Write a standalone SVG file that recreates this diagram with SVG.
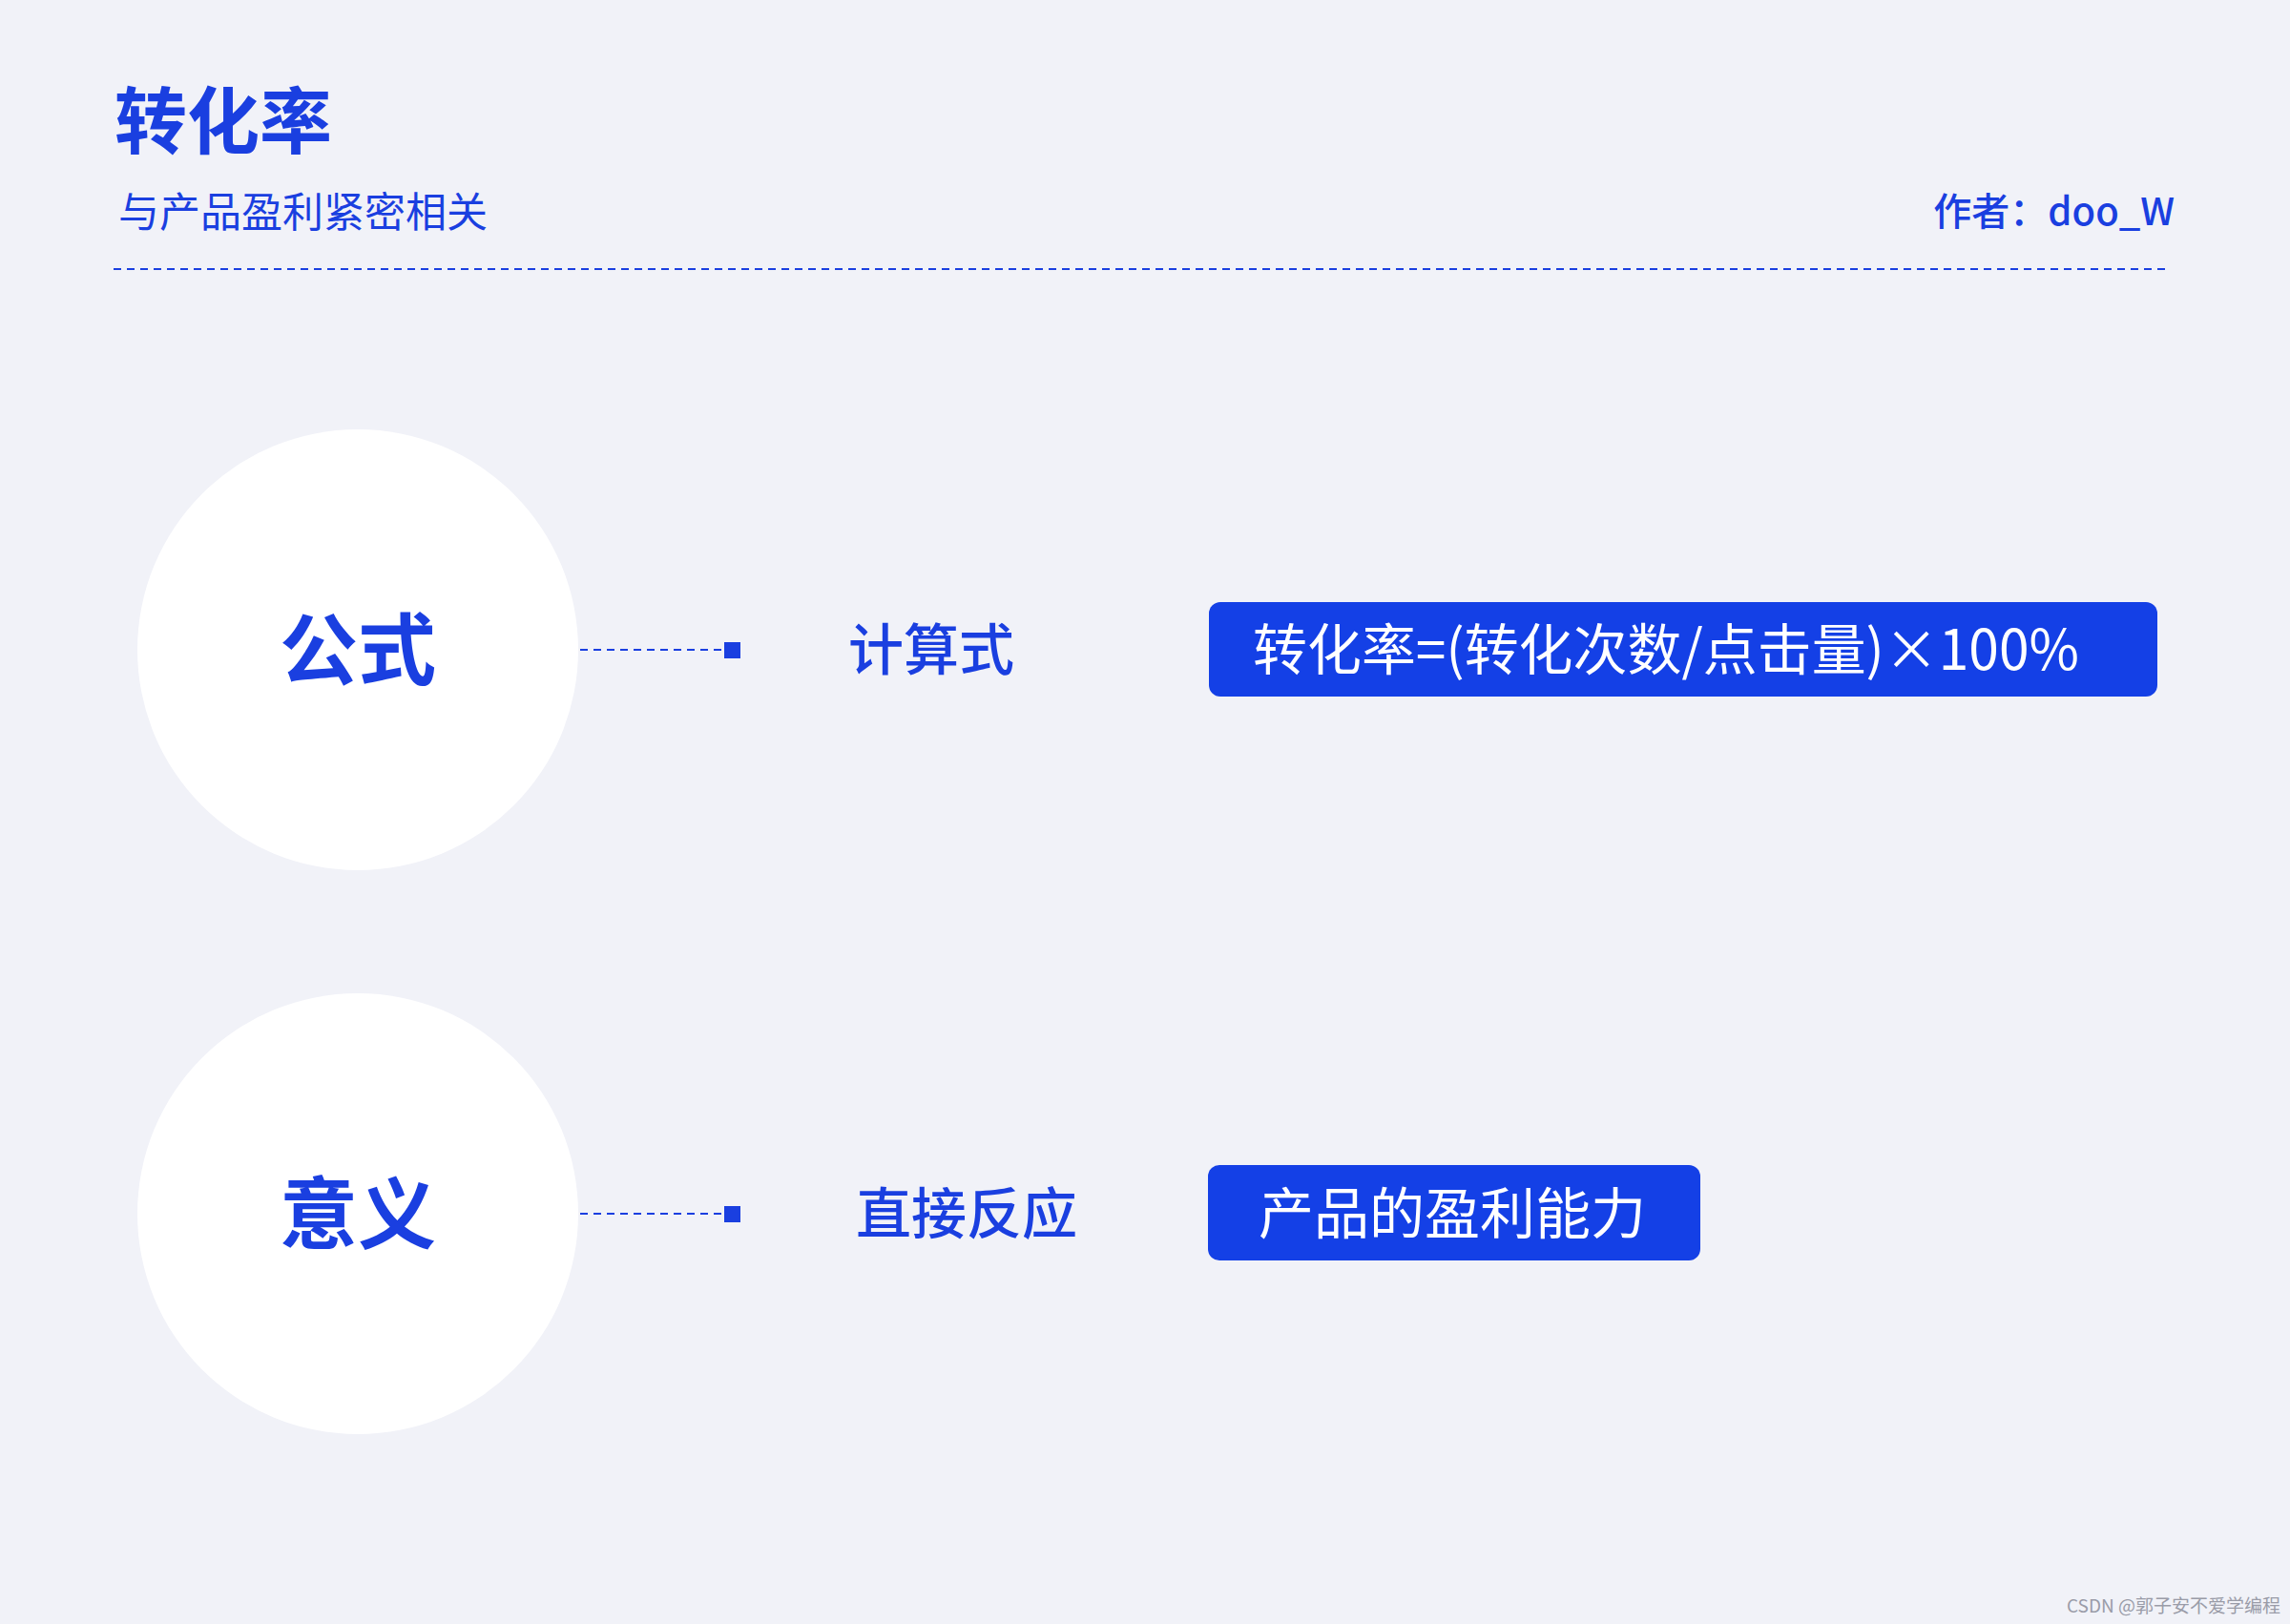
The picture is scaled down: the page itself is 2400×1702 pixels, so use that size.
<svg xmlns="http://www.w3.org/2000/svg" width="2400" height="1702" viewBox="0 0 2400 1702">
<style>
text{font-family:"Noto Sans CJK SC","Noto Sans",sans-serif;fill:#1a3fe0}
.c{fill:#fff}
.dash{stroke:#1a3fe0;stroke-width:2;stroke-dasharray:8 6;fill:none}
.box{fill:#1440e6}
.w{fill:#fff}
</style>
<rect width="2400" height="1702" fill="#f1f2f8"/>
<g id="header">
<text x="120" y="155" font-size="76" font-weight="700">转化率</text>
<text x="124" y="238" font-size="43">与产品盈利紧密相关</text>
<text x="2279" y="236" font-size="40" text-anchor="end" font-weight="500">作者：doo_W</text>
<line x1="119" y1="282" x2="2273" y2="282" class="dash"/>
</g>
<g id="formula">
<circle cx="375" cy="681" r="231" class="c"/>
<text x="375" y="711" font-size="82" font-weight="700" text-anchor="middle">公式</text>
</g>
<g id="formula-label"><text x="976" y="702" font-size="58" font-weight="500" text-anchor="middle">计算式</text></g>
<g id="formula-box">
<rect x="1267" y="631" width="994" height="99" rx="12" class="box"/>
<text x="1313" y="702" font-size="58" class="w" textLength="866" lengthAdjust="spacingAndGlyphs">转化率=(转化次数/点击量)×100%</text>
</g>
<g id="meaning">
<circle cx="375" cy="1272" r="231" class="c"/>
<text x="375" y="1302" font-size="82" font-weight="700" text-anchor="middle">意义</text>
</g>
<g id="meaning-label"><text x="1013" y="1293" font-size="58" font-weight="500" text-anchor="middle">直接反应</text></g>
<g id="meaning-box">
<rect x="1266" y="1221" width="516" height="100" rx="12" class="box"/>
<text x="1319" y="1293" font-size="58" class="w">产品的盈利能力</text>
</g>
<g id="connectors">
<line x1="608" y1="681" x2="762" y2="681" class="dash"/>
<rect x="759" y="673" width="17" height="17" fill="#1a3fe0"/>
<line x1="608" y1="1272" x2="762" y2="1272" class="dash"/>
<rect x="759" y="1264" width="17" height="17" fill="#1a3fe0"/>
</g>
<text x="2390" y="1690" font-size="19" text-anchor="end" style="fill:#9a9ca8">CSDN @郭子安不爱学编程</text>
</svg>
